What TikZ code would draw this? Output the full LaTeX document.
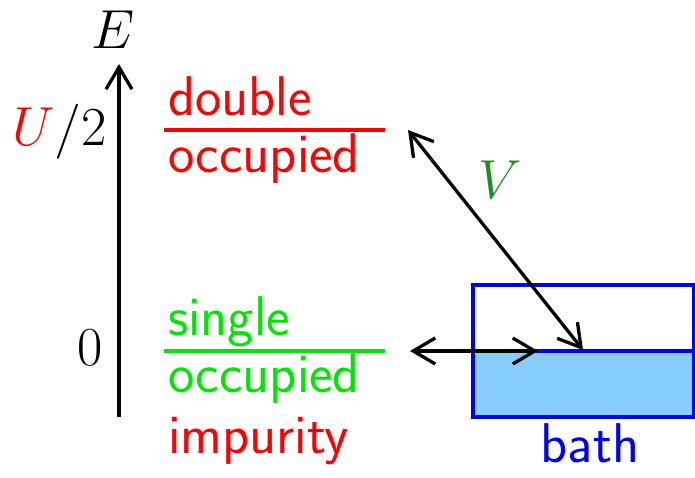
\RequirePackage{fix-cm}
\documentclass[tikz,border=0pt]{standalone}
\usetikzlibrary{arrows.meta}
\definecolor{bathfill}{RGB}{135,206,250}
\definecolor{vgreen}{RGB}{34,139,34}
\definecolor{lgreen}{RGB}{0,230,0}
\begin{document}
\begin{tikzpicture}[x=1pt,y=-1pt,
  big/.style={font=\fontsize{56}{60}\selectfont\sffamily, inner sep=0pt},
  bigmath/.style={font=\fontsize{55}{60}\selectfont, inner sep=0pt},
  tipb/.tip={Straight Barb[length=22pt,width=26pt]},
  arr/.style={line width=3.3pt, arrows={-tipb}},
  darr/.style={line width=3.3pt, arrows={tipb-tipb}},
  level/.style={line width=4pt}]
\useasboundingbox (0,0) rectangle (695,477);
% bath
\fill[bathfill] (473,351) rectangle (694,417);
\draw[blue, line width=4pt] (473,285) rectangle (694,417);
\coordinate (bl) at (473,351);
\coordinate (br) at (694,351);
\draw[blue, line width=4pt] (bl) -- (br);
\node[big, blue, anchor=base] (bath) at (590,462) {bath};
% energy axis
\coordinate (axb) at (119,417);
\coordinate (axt) at (119,64);
\draw[arr] (axb) -- (axt);
\node[bigmath, anchor=base] (E) at (113,48) {$E$};
\node[bigmath, anchor=base east] (U) at (107,145) {$\textcolor{red}{U}/2$};
\node[bigmath, anchor=base] (zero) at (90,365) {$0$};
% levels
\coordinate (d1) at (164,130);
\coordinate (d2) at (385,130);
\coordinate (s1) at (164,351);
\coordinate (s2) at (385,351);
\draw[level, red] (d1) -- (d2);
\draw[level, lgreen] (s1) -- (s2);
\node[big, red, anchor=base west] (dbl) at (168,115) {double};
\node[big, red, anchor=base west] (occ1) at (168,172) {occupied};
\node[big, lgreen, anchor=base west] (sgl) at (168,335) {single};
\node[big, lgreen, anchor=base west] (occ2) at (168,392) {occupied};
\node[big, red, anchor=base west] (imp) at (168,453) {impurity};
% hybridisation arrows
\coordinate (h1) at (410,351);
\coordinate (h2) at (538,351);
\draw[darr] (h1) -- (h2);
\coordinate (v1) at (408,130);
\coordinate (v2) at (583,350);
\draw[darr] (v1) -- (v2);
\node[bigmath, vgreen] (V) at (500,180) {$V$};
\end{tikzpicture}
\end{document}
